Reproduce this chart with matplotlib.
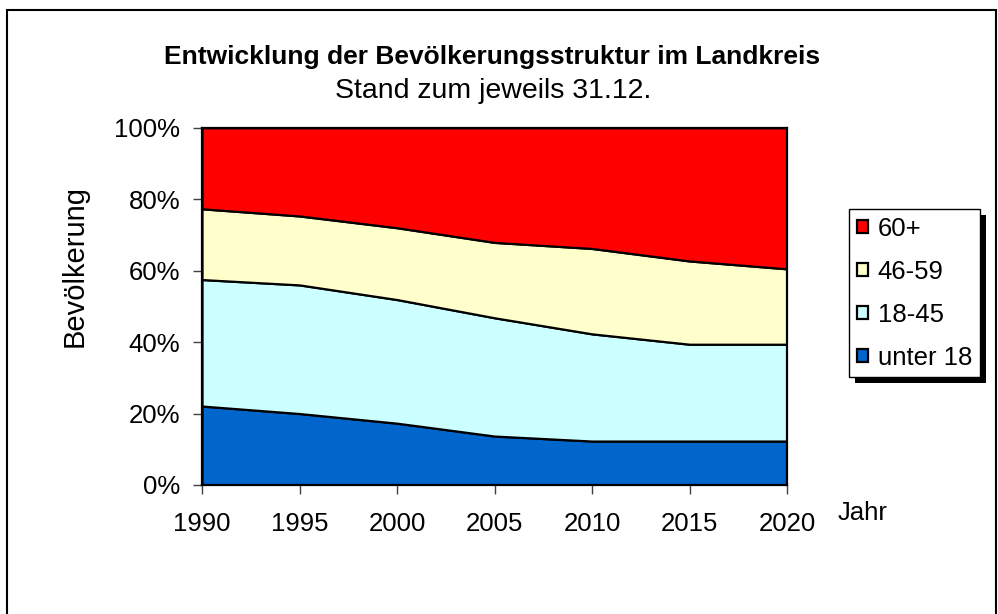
import matplotlib.pyplot as plt
from matplotlib.patches import Rectangle
from matplotlib.ticker import FuncFormatter

plt.rcParams['font.family'] = ['Liberation Sans', 'DejaVu Sans']

# Anteile in Prozent (Stand jeweils 31.12.)
jahre = [1990, 1995, 2000, 2005, 2010, 2015, 2020]
unter_18 = [22.1, 20.0, 17.3, 13.7, 12.3, 12.3, 12.3]
alter_18_45 = [35.4, 36.0, 34.6, 33.1, 30.0, 27.1, 27.1]
alter_46_59 = [19.8, 19.3, 20.1, 21.1, 23.9, 23.3, 21.1]
alter_60 = [22.7, 24.7, 28.0, 32.1, 33.8, 37.3, 39.5]

labels = ["unter 18", "18-45", "46-59", "60+"]
colors = ["#0066CC", "#CCFFFF", "#FFFFCC", "#FF0000"]

W, H = 998, 614
fig = plt.figure(figsize=(W/100, H/100), dpi=100)
ax = fig.add_axes([202/W, 1-485/H, 585/W, (485-127.7)/H])

polys = ax.stackplot(jahre, unter_18, alter_18_45, alter_46_59, alter_60,
                     colors=colors, labels=labels, edgecolor='black', linewidth=1.6)

ax.set_xlim(1990, 2020)
ax.set_ylim(0, 100)
ax.set_xticks(jahre)
ax.set_yticks(range(0, 101, 20))
ax.yaxis.set_major_formatter(FuncFormatter(lambda v, p: "%d%%" % v))
ax.tick_params(direction='out', length=6.5, width=1, labelsize=18.5, pad=9, color='#404040')
ax.tick_params(axis='x', pad=13)
for s in ax.spines.values():
    s.set_linewidth(1.6)
    s.set_color('black')

fig.text(75/W, 1-266/H, "Bevölkerung", fontsize=21, rotation=90, ha='center', va='center')
fig.text(863/W, 1-520/H, "Jahr", fontsize=18.5, ha='center', va='baseline')

fig.text(492/W, 1-57/H, "Entwicklung der Bevölkerungsstruktur im Landkreis",
         fontsize=19, fontweight='bold', ha='center', va='center')
fig.text(493/W, 1-91/H, "Stand zum jeweils 31.12.", fontsize=20.5, ha='center', va='center')

# Legende rechts, umgekehrte Reihenfolge
h, l = ax.get_legend_handles_labels()
leg = fig.legend(h[::-1], l[::-1], loc='upper left',
                 bbox_to_anchor=(849/W, 1-209/H), fontsize=18.5,
                 frameon=True, fancybox=False, edgecolor='black', facecolor='white',
                 framealpha=1, handlelength=0.43, handleheight=0.43, handletextpad=0.39,
                 labelspacing=0.74, borderpad=0.3, borderaxespad=0)
leg.get_frame().set_linewidth(1.0)
fig.canvas.draw()
bb = leg.get_window_extent().transformed(fig.transFigure.inverted())
shadow = Rectangle((bb.x0 + 6/W, bb.y0 - 6/H), bb.width, bb.height,
                   transform=fig.transFigure, facecolor='black', edgecolor='none',
                   zorder=leg.get_zorder()-1)
fig.add_artist(shadow)

# Rahmen um das Diagramm
fig.add_artist(Rectangle((7/W, -0.1), 989/W, 1.1 - 10/H, transform=fig.transFigure,
                         fill=False, edgecolor='black', linewidth=1.5))

fig.savefig("out.png", dpi=100)
